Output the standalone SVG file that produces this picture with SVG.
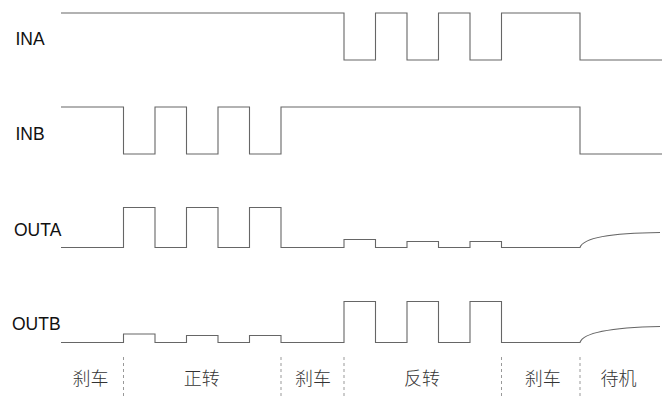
<svg xmlns="http://www.w3.org/2000/svg" width="663" height="399" viewBox="0 0 663 399">
<style>
.bg{fill:#ffffff}
.wave{fill:none;stroke:#666666;stroke-width:1.1;stroke-linejoin:miter}
.div{fill:none;stroke:#999999;stroke-width:1;stroke-dasharray:3 3}
.sig{font-family:"Liberation Sans",Arial,sans-serif;font-size:17.5px;fill:#111111}
.state{font-family:"Noto Sans CJK SC","Noto Sans CJK JP",sans-serif;font-size:18px;font-weight:300;fill:#333333;text-anchor:middle}
</style>
<rect class="bg" x="0" y="0" width="663" height="399"/>
<g id="INA">
<text class="sig" x="15.5" y="45">INA</text>
<path class="wave" d="M61,13 H344 V60 H375.5 V13 H407 V60 H438.5 V13 H470 V60 H501.5 V13 H580 V60 H662"/>
</g>
<g id="INB">
<text class="sig" x="15.5" y="140">INB</text>
<path class="wave" d="M61,107 H123.5 V154 H155 V107 H186.5 V154 H218 V107 H249.5 V154 H281 V107 H580 V154 H662"/>
</g>
<g id="OUTA">
<text class="sig" x="14" y="236">OUTA</text>
<path class="wave" d="M61,247.5 H123.5 V207.5 H155 V247.5 H186.5 V207.5 H218 V247.5 H249.5 V207.5 H281 V247.5 H344 V239.5 H375.5 V247.5 H407 V241.5 H438.5 V247.5 H470 V241.5 H501.5 V247.5 H580 C583,238 610,233 660,232.5"/>
</g>
<g id="OUTB">
<text class="sig" x="12" y="329.5">OUTB</text>
<path class="wave" d="M61,342.5 H123.5 V334 H155 V342.5 H186.5 V335.5 H218 V342.5 H249.5 V335.5 H281 V342.5 H344 V301.5 H375.5 V342.5 H407 V301.5 H438.5 V342.5 H470 V301.5 H501.5 V342.5 H580 C583,333 610,327.5 660,326.5"/>
</g>
<g id="dividers">
<line class="div" x1="123.5" y1="357" x2="123.5" y2="399"/>
<line class="div" x1="281" y1="357" x2="281" y2="399"/>
<line class="div" x1="344" y1="357" x2="344" y2="399"/>
<line class="div" x1="501.5" y1="357" x2="501.5" y2="399"/>
<line class="div" x1="580" y1="357" x2="580" y2="399"/>
</g>
<g id="states">
<text class="state" x="90.5" y="385">刹车</text>
<text class="state" x="201.7" y="385">正转</text>
<text class="state" x="313" y="385">刹车</text>
<text class="state" x="422" y="385">反转</text>
<text class="state" x="542.7" y="385">刹车</text>
<text class="state" x="618.5" y="385">待机</text>
</g>
</svg>
